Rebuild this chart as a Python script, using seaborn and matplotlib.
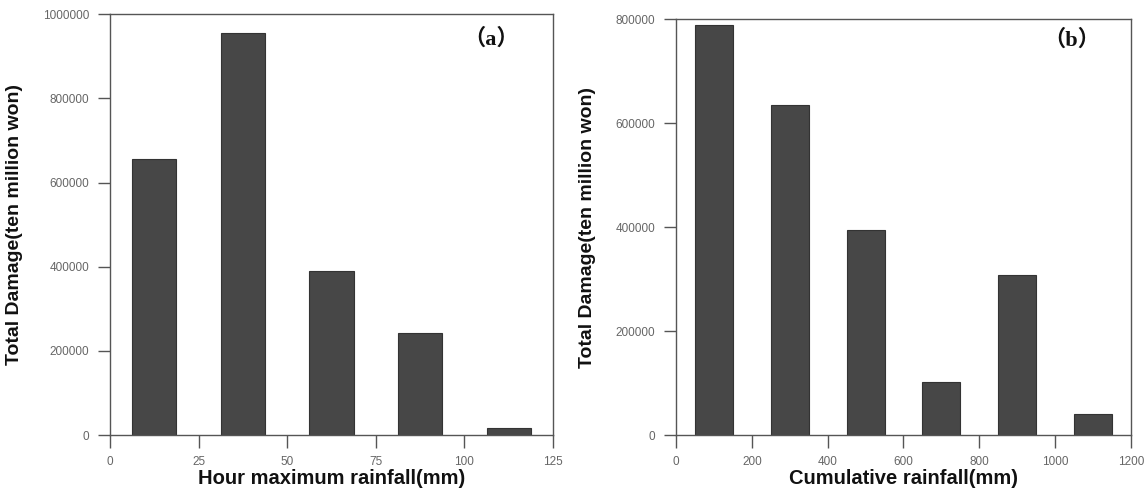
import matplotlib
matplotlib.use("Agg")
import matplotlib.pyplot as plt
import seaborn as sns

# panel (a): hour maximum rainfall
hour_rain_mm = [12.5, 37.5, 62.5, 87.5, 112.5]
hour_damage = [657000, 956000, 389000, 242000, 18000]
hour_ticks = [0, 25, 50, 75, 100, 125]

# panel (b): cumulative rainfall
cum_rain_mm = [100, 300, 500, 700, 900, 1100]
cum_damage = [788000, 635000, 394000, 102000, 307000, 41000]
cum_ticks = [0, 200, 400, 600, 800, 1000, 1200]

sns.set_style("ticks")
plt.rcParams['font.family'] = ['Liberation Sans', 'DejaVu Sans']

bar_color = '#474747'
axis_color = '#555555'

fig = plt.figure(figsize=(11.48, 4.9), dpi=100)
ax_a = fig.add_axes([0.0958, 0.112, 0.3859, 0.859])
ax_b = fig.add_axes([0.589, 0.112, 0.396, 0.849])


def style_panel(ax, xticks, xlim, ylim, yticks, xlabel, tag, tag_pos):
    ax.set_xlim(*xlim)
    ax.set_ylim(*ylim)
    ax.set_xticks(xticks)
    ax.set_yticks(yticks)
    ax.set_yticklabels([str(t) for t in yticks])
    ax.tick_params(axis='both', direction='out', length=9, width=1,
                   color=axis_color, labelcolor='#666666', labelsize=8.5, pad=6)
    for s in ax.spines.values():
        s.set_visible(True)
        s.set_color(axis_color)
        s.set_linewidth(1.0)
    ax.set_xlabel(xlabel, fontsize=14.5, fontweight='bold', labelpad=1, color='#111111')
    ax.set_ylabel('Total Damage(ten million won)', fontsize=14, fontweight='bold',
                  labelpad=14, color='#111111')
    ax.text(tag_pos[0], tag_pos[1], tag, transform=ax.transAxes, fontsize=16,
            fontweight='bold', ha='center', va='center', color='#111111',
            family=['Liberation Serif', 'Noto Sans CJK SC'])


sns.barplot(x=hour_rain_mm, y=hour_damage, native_scale=True, width=0.5,
            color=bar_color, saturation=1, edgecolor='#333333', linewidth=0.8, ax=ax_a)
style_panel(ax_a, hour_ticks, (0, 125), (0, 1000000),
            [0, 200000, 400000, 600000, 800000, 1000000],
            'Hour maximum rainfall(mm)', '（a）', (0.86, 0.94))

sns.barplot(x=cum_rain_mm, y=cum_damage, native_scale=True, width=0.5,
            color=bar_color, saturation=1, edgecolor='#333333', linewidth=0.8, ax=ax_b)
style_panel(ax_b, cum_ticks, (0, 1200), (0, 800000),
            [0, 200000, 400000, 600000, 800000],
            'Cumulative rainfall(mm)', '（b）', (0.87, 0.95))

fig.savefig('out.png', dpi=100)
